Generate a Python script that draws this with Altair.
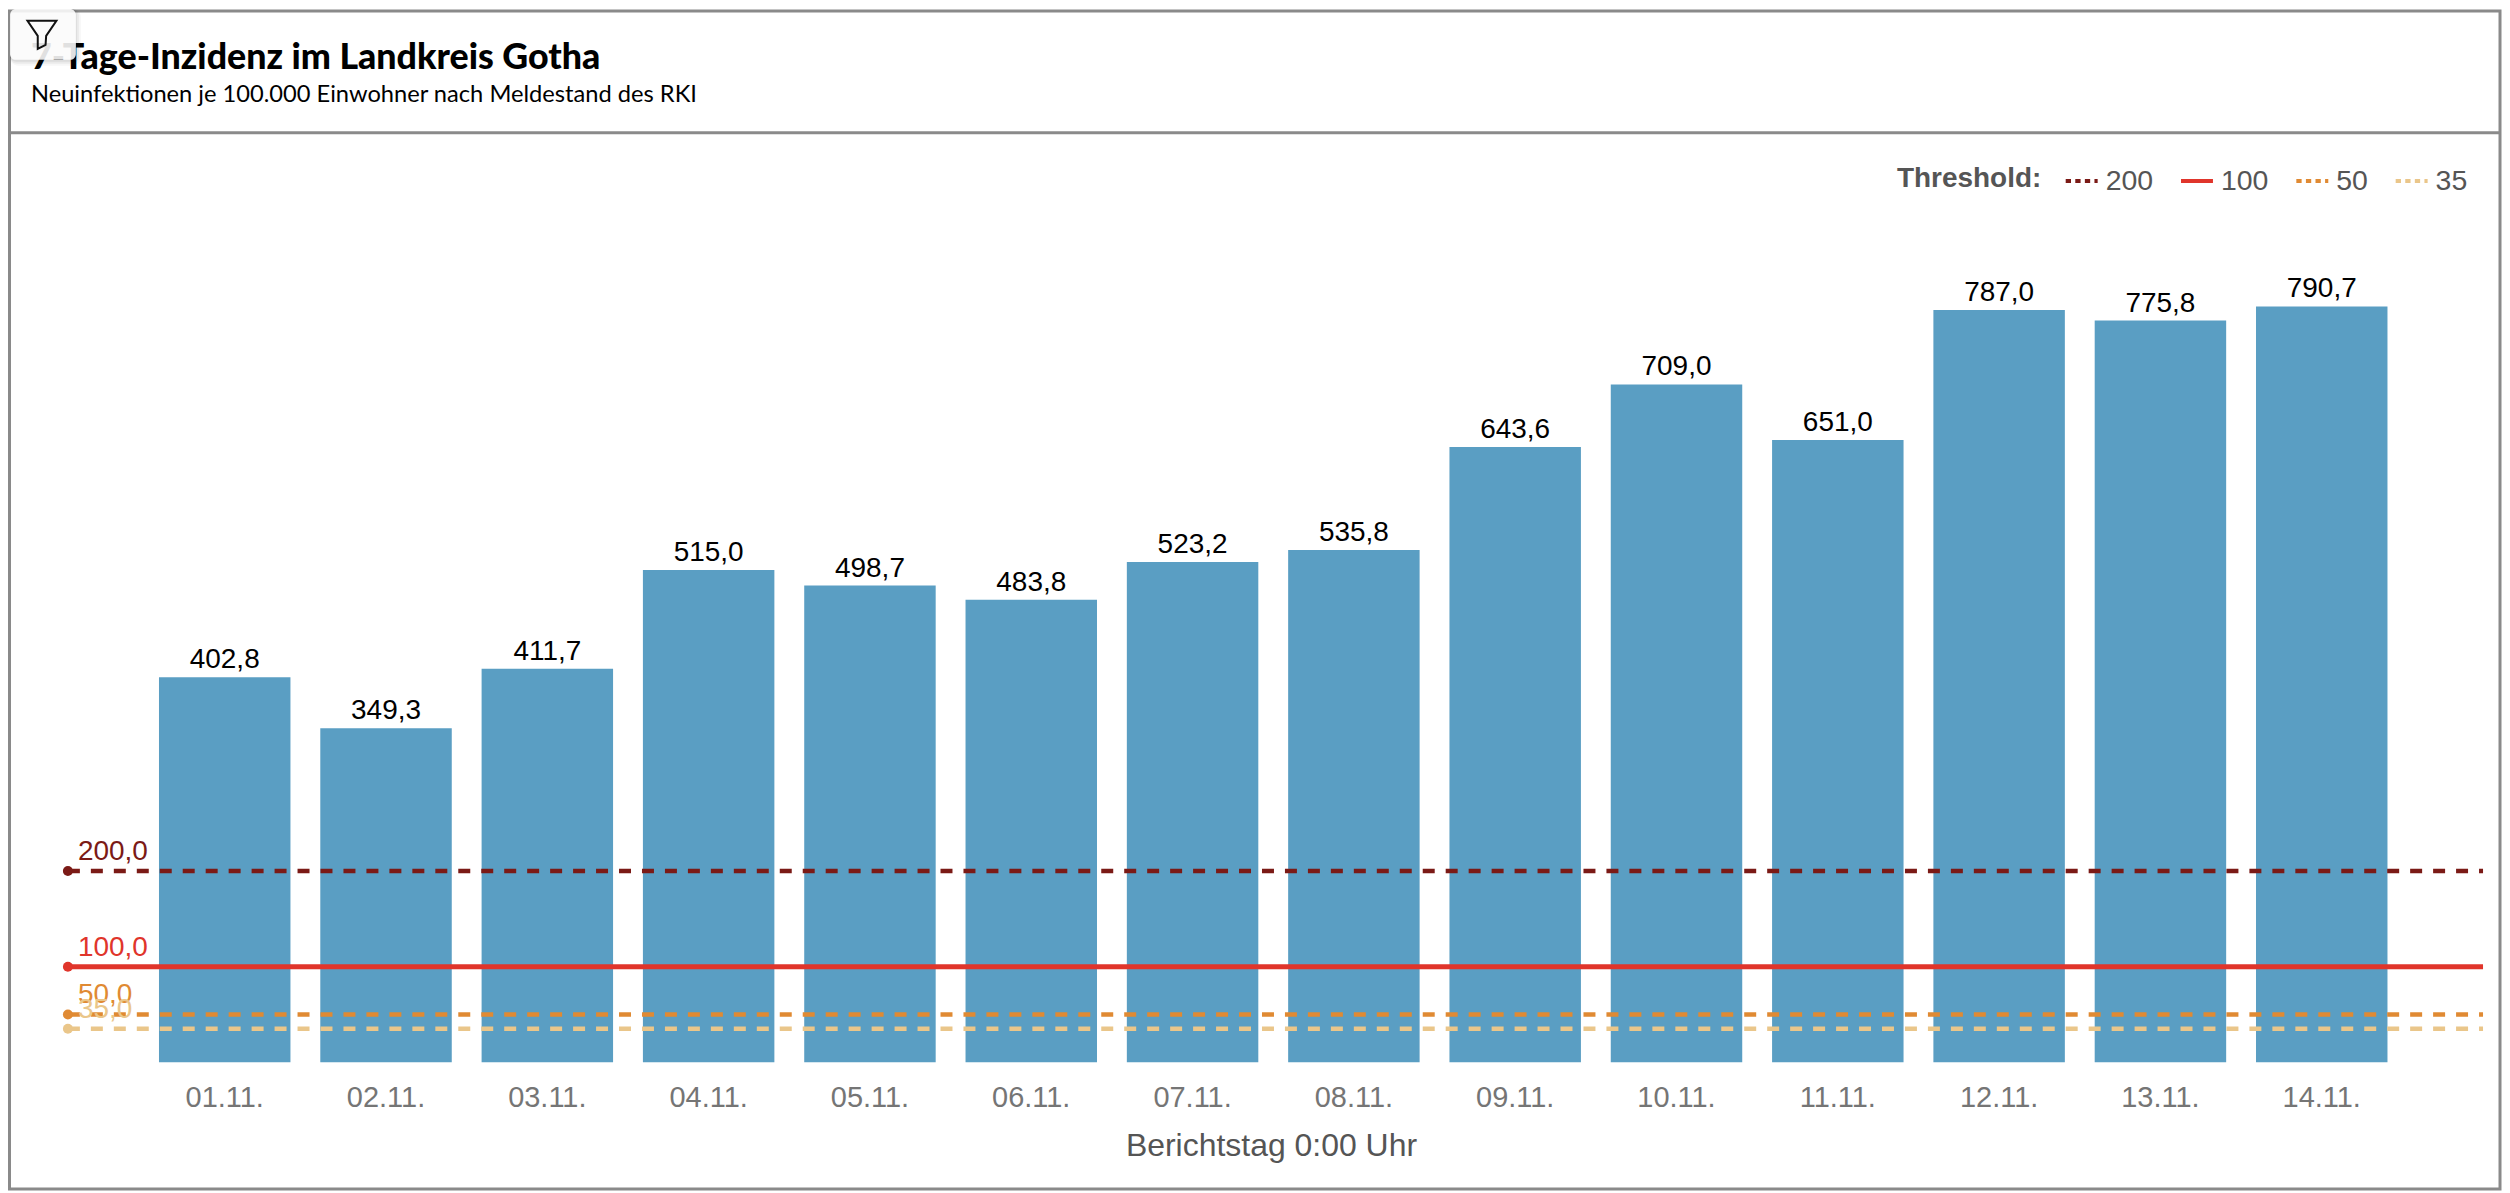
import altair as alt
import pandas as pd

title_text = "7-Tage-Inzidenz im Landkreis Gotha"
subtitle_text = "Neuinfektionen je 100.000 Einwohner nach Meldestand des RKI"
days = ["01.11.", "02.11.", "03.11.", "04.11.", "05.11.", "06.11.", "07.11.",
        "08.11.", "09.11.", "10.11.", "11.11.", "12.11.", "13.11.", "14.11."]
incidence = [402.8, 349.3, 411.7, 515.0, 498.7, 483.8, 523.2,
             535.8, 643.6, 709.0, 651.0, 787.0, 775.8, 790.7]
threshold_names = ["200", "100", "50", "35"]
threshold_values = [200, 100, 50, 35]
threshold_colors = ["#7b1a16", "#e0352b", "#e08a33", "#eac68a"]

W, H = 2419, 766
FONT = "Liberation Sans"

bars_df = pd.DataFrame({"Tag": days, "Wert": incidence,
                        "Label": [f"{v:.1f}".replace(".", ",") for v in incidence]})
thr_df = pd.DataFrame({"Threshold": threshold_names, "Wert": threshold_values,
                       "Label": [f"{v:.1f}".replace(".", ",") for v in threshold_values]})

y_enc = alt.Y("Wert:Q", scale=alt.Scale(domain=[0, 800], nice=False), axis=None)
x_enc = alt.X("Tag:N", sort=None,
              scale=alt.Scale(paddingInner=0.185, paddingOuter=0.5785, align=0.488, round=False),
              axis=alt.Axis(title="Berichtstag 0:00 Uhr", labelAngle=0, ticks=False, domain=False,
                            grid=False, labelFont=FONT, labelFontSize=29, labelColor="#757575",
                            labelPadding=21, titleFont=FONT, titleFontSize=32,
                            titleFontWeight="normal", titleColor="#555555", titlePadding=18,
                            titleX=1205))
color_scale = alt.Scale(domain=threshold_names, range=threshold_colors)
color_plain = alt.Color("Threshold:N", scale=color_scale)

bars = alt.Chart(bars_df).mark_bar(color="#5a9ec3").encode(x=x_enc, y=y_enc)
bar_labels = alt.Chart(bars_df).mark_text(font=FONT, fontSize=28, color="#000000",
                                          baseline="alphabetic", dy=-9).encode(
    x=x_enc, y=y_enc, text="Label:N")

rule_base = alt.Chart(thr_df)
rule_enc = dict(x=alt.value(0), x2=alt.value(W), y=y_enc, color=color_plain)
rules_dashed = rule_base.transform_filter("datum.Threshold != '100'").mark_rule(
    strokeWidth=4.5, strokeDash=[12, 11]).encode(**rule_enc)
rule_solid = rule_base.transform_filter("datum.Threshold == '100'").mark_rule(
    strokeWidth=5).encode(**rule_enc)

legend = alt.Legend(title="Threshold:", orient="none", legendX=1832, legendY=-135,
                    direction="horizontal", columns=4, titleOrient="left", symbolType="stroke",
                    symbolSize=1024, symbolStrokeWidth=4, labelFont=FONT, labelFontSize=28.5,
                    labelColor="#555555", labelOffset=6, columnPadding=19.5, titleFont=FONT,
                    titleFontSize=28, titleFontWeight="bold", titleColor="#555555",
                    titlePadding=22, padding=0, zindex=1)
legend_layer = rule_base.mark_rule(strokeWidth=4).encode(
    x=alt.value(0), x2=alt.value(0), y=y_enc,
    color=alt.Color("Threshold:N", scale=color_scale, sort=threshold_names, legend=legend),
    strokeDash=alt.StrokeDash("Threshold:N", sort=threshold_names,
                              scale=alt.Scale(domain=threshold_names,
                                              range=[[5.3, 4.3], [1, 0], [5.3, 4.3], [5.3, 4.3]]),
                              legend=legend))

dots = rule_base.mark_point(filled=True, size=100, opacity=1).encode(
    x=alt.value(0), y=y_enc, color=color_plain)
thr_labels = rule_base.mark_text(font=FONT, fontSize=28, align="left", baseline="alphabetic",
                                 dy=-11).encode(
    x=alt.value(10), y=y_enc, text="Label:N", color=color_plain)

one = alt.Data(values=[{"a": 1}])
frame = alt.Chart(one).mark_rect(filled=False, stroke="#8a8a8a", strokeWidth=3).encode(
    x=alt.value(-58.5), x2=alt.value(2436), y=alt.value(-287), y2=alt.value(893))
header_line = alt.Chart(one).mark_rule(color="#8a8a8a", strokeWidth=3).encode(
    x=alt.value(-58.5), x2=alt.value(2436), y=alt.value(-165))

head_title = alt.Chart(one).mark_text(
    text=title_text, font="Lato", fontSize=35.8, fontWeight=900, color="#000000",
    align="left", baseline="alphabetic").encode(x=alt.value(-37), y=alt.value(-229))
head_sub = alt.Chart(one).mark_text(
    text=subtitle_text, font="Lato", fontSize=23.7, color="#000000",
    align="left", baseline="alphabetic").encode(x=alt.value(-37), y=alt.value(-195.3))

shadow0 = alt.Chart(one).mark_rect(color="#000000", opacity=0.03, cornerRadius=8).encode(
    x=alt.value(-58), x2=alt.value(13), y=alt.value(-289), y2=alt.value(-232))
shadow1 = alt.Chart(one).mark_rect(color="#000000", opacity=0.05, cornerRadius=7).encode(
    x=alt.value(-58), x2=alt.value(11), y=alt.value(-289), y2=alt.value(-234))
shadow2 = alt.Chart(one).mark_rect(color="#000000", opacity=0.06, cornerRadius=6).encode(
    x=alt.value(-58), x2=alt.value(9), y=alt.value(-289), y2=alt.value(-236))
box = alt.Chart(one).mark_rect(color="#ffffff", opacity=0.88, cornerRadius=6).encode(
    x=alt.value(-58), x2=alt.value(8), y=alt.value(-289), y2=alt.value(-238))
funnel = alt.Chart(one).mark_point(
    shape="M -1 -0.94 L 1 -0.94 L 0.29 0.1 L 0.25 0.72 L -0.29 1 L -0.29 0.1 Z",
    size=840, filled=False, stroke="#111111", strokeWidth=2, opacity=1).encode(
    x=alt.value(-26), y=alt.value(-263.5))

chart = alt.layer(
    frame, header_line, head_title, head_sub, bars, bar_labels, legend_layer, rules_dashed, rule_solid,
    dots, thr_labels, shadow0, shadow1, shadow2, box, funnel
).properties(
    width=W, height=H, padding=0, background="#ffffff",
).configure_view(stroke=None)

chart.save("out.html", embed_options={"renderer": "svg", "actions": False})
